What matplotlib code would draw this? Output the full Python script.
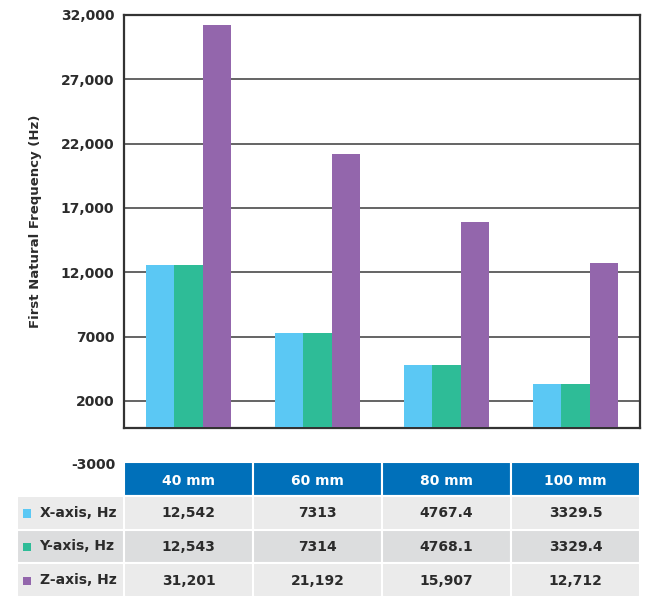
import matplotlib
matplotlib.use("Agg")
import matplotlib.pyplot as plt
from matplotlib.patches import Rectangle
import numpy as np

# data
sizes = ["40 mm", "60 mm", "80 mm", "100 mm"]
x_axis = [12542, 7313, 4767.4, 3329.5]
y_axis = [12543, 7314, 4768.1, 3329.4]
z_axis = [31201, 21192, 15907, 12712]
x_txt = ["12,542", "7313", "4767.4", "3329.5"]
y_txt = ["12,543", "7314", "4768.1", "3329.4"]
z_txt = ["31,201", "21,192", "15,907", "12,712"]
series_names = ["X-axis, Hz", "Y-axis, Hz", "Z-axis, Hz"]
yticks = [2000, 7000, 12000, 17000, 22000, 27000, 32000]
ytick_labels = ["2000", "7000", "12,000", "17,000", "22,000", "27,000", "32,000"]

colors = ["#5BC8F4", "#2EBC97", "#9366AC"]
txt_col = "#2b2b2b"
plt.rcParams['font.family'] = ['DejaVu Sans']

fig = plt.figure(figsize=(6.55, 6.04), dpi=100)
ax = fig.add_axes([124/655, 176/604, 516/655, 413/604])

pos = np.arange(len(sizes))
w = 0.222
for k, vals in enumerate([x_axis, y_axis, z_axis]):
    ax.bar(pos + (k - 1) * w, vals, width=w, color=colors[k], zorder=3)

ax.set_xlim(-0.5, 3.5)
ax.set_ylim(-100, 32000)
ax.set_yticks(yticks)
ax.set_yticklabels(ytick_labels, fontsize=10, fontweight='bold', color=txt_col)
ax.set_xticks([])
ax.tick_params(axis='y', length=0, pad=7)
ax.grid(axis='y', color='#3a3a3a', lw=1.1, zorder=1)
for s in ax.spines.values():
    s.set_color('#333333')
    s.set_linewidth(1.6)
ax.text(-0.5, -3000, "-3000", transform=ax.transData, ha='right', va='center',
        fontsize=10, fontweight='bold', color=txt_col, clip_on=False)
ax.yaxis.set_label_coords(-0.158, 0.5)
ax.set_ylabel("First Natural Frequency (Hz)", fontsize=9.5, fontweight='bold', color=txt_col)
# nudge -3000 label x to match tick labels
ax.texts[0].set_position((-0.5 - 8/129, -3000))

# table
tb = fig.add_axes([17/655, 7/604, 623/655, 135/604])
left = -0.5 - 107/129
tb.set_xlim(left, 3.5)
tb.set_ylim(4, 0)
tb.axis('off')
row_colors = ["#EBEBEB", "#DCDDDE", "#EBEBEB"]
rows = [x_txt, y_txt, z_txt]

for j, name in enumerate(sizes):
    tb.add_patch(Rectangle((j - 0.5, 0), 1, 1, facecolor="#0070BA",
                           edgecolor='white', lw=1.5))
    tb.text(j, 0.55, name, ha='center', va='center', color='white',
            fontsize=10, fontweight='bold')

for i, vals in enumerate(rows):
    r = i + 1
    tb.add_patch(Rectangle((left, r), -0.5 - left, 1, facecolor=row_colors[i],
                           edgecolor='white', lw=1.5))
    tb.add_patch(Rectangle((left + 0.05, r + 0.4), 0.058, 0.25,
                           facecolor=colors[i], edgecolor='none'))
    tb.text(left + 0.175, r + 0.5, series_names[i], ha='left', va='center',
            color=txt_col, fontsize=10, fontweight='bold')
    for j, v in enumerate(vals):
        tb.add_patch(Rectangle((j - 0.5, r), 1, 1, facecolor=row_colors[i],
                               edgecolor='white', lw=1.5))
        tb.text(j, r + 0.52, v, ha='center', va='center', color=txt_col,
                fontsize=10, fontweight='bold')

fig.savefig("out.png", dpi=100)
